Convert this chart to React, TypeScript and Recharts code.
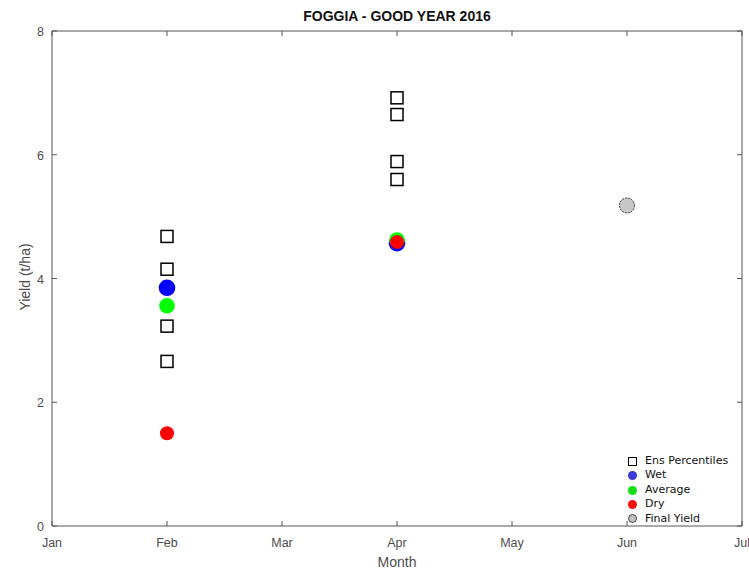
import {
  ScatterChart, Scatter,
  XAxis, YAxis,
} from 'recharts';

// month positions on the x axis (1 = Jan)
const monthTicks = [1, 2, 3, 4, 5, 6, 7];
const monthNames = ['Jan', 'Feb', 'Mar', 'Apr', 'May', 'Jun', 'Jul'];
const yieldTicks = [0, 2, 4, 6, 8];

// ensemble percentiles at each forecast date (t/ha)
const ensFeb = [4.68, 4.15, 3.23, 2.66];
const ensApr = [6.92, 6.65, 5.89, 5.6];

// scenario forecasts: [Feb, Apr]
const forecastMonths = [2, 4];
const wetYield = [3.85, 4.57];
const avgYield = [3.56, 4.62];
const dryYield = [1.5, 4.59];

const finalMonth = 6;
const finalYield = 5.18;

const ensData = [
  ...ensFeb.map((y) => ({ x: 2, y })),
  ...ensApr.map((y) => ({ x: 4, y })),
];
const toPoints = (vals: number[]) => vals.map((y, i) => ({ x: forecastMonths[i], y }));
const finalData = [{ x: finalMonth, y: finalYield }];

const AXIS = '#555';
const LABEL = '#4d4d4d';
const TICK = 5;

const Square = (p: any) => (
  <rect x={p.cx - 6} y={p.cy - 6} width={12} height={12} fill="#fff" stroke="#000" strokeWidth={1.5} />
);
const dot = (fill: string, r: number, stroke = 'none') => (p: any) => (
  <circle cx={p.cx} cy={p.cy} r={r} fill={fill} stroke={stroke} strokeWidth={1} strokeDasharray={stroke === 'none' ? undefined : '2 1'} />
);

// inward ticks on all four sides of the box
const BottomTick = (p: any) => (
  <g>
    <line x1={p.x} x2={p.x} y1={p.y} y2={p.y - TICK} stroke={AXIS} />
    <text x={p.x} y={p.y + 21} textAnchor="middle" fill={LABEL} fontSize={12.5}>
      {monthNames[p.payload.value - 1]}
    </text>
  </g>
);
const TopTick = (p: any) => (
  <line x1={p.x} x2={p.x} y1={p.y} y2={p.y + TICK} stroke={AXIS} />
);
const LeftTick = (p: any) => (
  <g>
    <line x1={p.x} x2={p.x + TICK} y1={p.y} y2={p.y} stroke={AXIS} />
    <text x={p.x - 8} y={p.y + 5} textAnchor="end" fill={LABEL} fontSize={12.5}>
      {p.payload.value}
    </text>
  </g>
);
const RightTick = (p: any) => (
  <line x1={p.x} x2={p.x - TICK} y1={p.y} y2={p.y} stroke={AXIS} />
);

const legendItems = [
  { name: 'Ens Percentiles', kind: 'square', color: '#fff' },
  { name: 'Wet', kind: 'dot', color: '#3a3ad6' },
  { name: 'Average', kind: 'dot', color: '#10e010' },
  { name: 'Dry', kind: 'dot', color: '#f01010' },
  { name: 'Final Yield', kind: 'final', color: '#c0c0c0' },
];

export default function App() {
  return (
    <div style={{ position: 'absolute', left: 0, top: 0, width: 749, height: 569, background: '#fff', fontFamily: '"Liberation Sans", Arial, sans-serif' }}>
      <div style={{ position: 'absolute', left: 52, width: 690, top: 8, textAlign: 'center', fontWeight: 'bold', fontSize: 14, color: '#111' }}>
        FOGGIA - GOOD YEAR 2016
      </div>
      <ScatterChart width={749} height={569} margin={{ top: 30, right: 6, bottom: 0, left: 0 }}>
        <XAxis
          type="number" dataKey="x" domain={[1, 7]} ticks={monthTicks}
          height={43} stroke={AXIS} tickLine={false} tickSize={0} tickMargin={0}
          tick={BottomTick} interval={0}
        />
        <XAxis
          xAxisId="top" orientation="top" type="number" dataKey="x" domain={[1, 7]} ticks={monthTicks}
          height={1} stroke={AXIS} tickLine={false} tickSize={0} tickMargin={0}
          tick={TopTick} interval={0}
        />
        <YAxis
          type="number" dataKey="y" domain={[0, 8]} ticks={yieldTicks}
          width={52} stroke={AXIS} tickLine={false} tickSize={0} tickMargin={0}
          tick={LeftTick} interval={0}
        />
        <YAxis
          yAxisId="right" orientation="right" type="number" dataKey="y" domain={[0, 8]} ticks={yieldTicks}
          width={1} stroke={AXIS} tickLine={false} tickSize={0} tickMargin={0}
          tick={RightTick} interval={0}
        />
        <Scatter name="Ens Percentiles" data={ensData} shape={Square} isAnimationActive={false} />
        <Scatter name="Wet" data={toPoints(wetYield)} shape={dot('#0000ff', 8.3)} isAnimationActive={false} />
        <Scatter name="Average" data={toPoints(avgYield)} shape={dot('#00ff00', 7.8)} isAnimationActive={false} />
        <Scatter name="Dry" data={toPoints(dryYield)} shape={dot('#ff0000', 7)} isAnimationActive={false} />
        {/* same domains as the main axes; bound to top/right so those box edges render */}
        <Scatter name="Final Yield" data={finalData} xAxisId="top" yAxisId="right" shape={dot('#c8c8c8', 7.5, '#333')} isAnimationActive={false} />
      </ScatterChart>
      <div style={{ position: 'absolute', left: 397 - 30, top: 554, width: 60, textAlign: 'center', fontSize: 14, color: LABEL }}>
        Month
      </div>
      <div style={{ position: 'absolute', left: 25 - 50, top: 278 - 9, width: 100, textAlign: 'center', fontSize: 14, color: LABEL, transform: 'rotate(-90deg)' }}>
        Yield (t/ha)
      </div>
      <div style={{ position: 'absolute', left: 628, top: 454, fontFamily: '"DejaVu Sans", Verdana, sans-serif', fontSize: 11, color: '#111', lineHeight: '14.4px' }}>
        {legendItems.map((it) => (
          <div key={it.name} style={{ display: 'flex', alignItems: 'center', whiteSpace: 'nowrap' }}>
            <span style={{
              display: 'inline-block', width: 9, height: 9, marginRight: 8, boxSizing: 'border-box',
              background: it.color,
              border: it.kind === 'square' ? '1.5px solid #000' : it.kind === 'final' ? '1.5px solid #444' : 'none',
              borderRadius: it.kind === 'square' ? 0 : '50%',
            }} />
            {it.name}
          </div>
        ))}
      </div>
    </div>
  );
}
